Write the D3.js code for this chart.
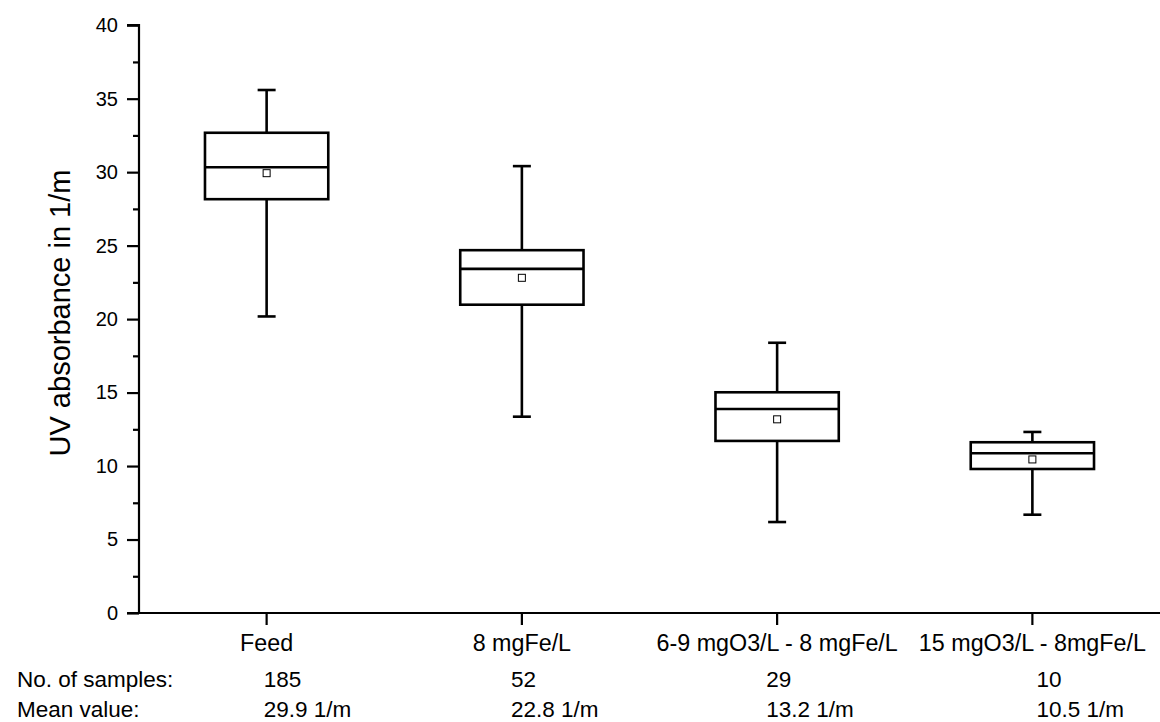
<!DOCTYPE html>
<html>
<head>
<meta charset="utf-8">
<script src="https://cdn.jsdelivr.net/npm/d3@7"></script>
<style>
  html, body { margin: 0; padding: 0; background: #fff; }
  svg { display: block; }
  text { font-family: "Liberation Sans", Arial, Helvetica, sans-serif; fill: #000; }
</style>
</head>
<body>
<svg id="chart" width="1160" height="722"></svg>
<script>
const categories = ["Feed", "8 mgFe/L", "6-9 mgO3/L - 8 mgFe/L", "15 mgO3/L - 8mgFe/L"];
const whiskerLow  = [20.18, 13.36, 6.19, 6.69];
const q1          = [28.16, 20.98, 11.71, 9.80];
const median      = [30.33, 23.42, 13.88, 10.87];
const q3          = [32.68, 24.69, 15.02, 11.62];
const whiskerHigh = [35.59, 30.41, 18.39, 12.32];
const means       = [29.93, 22.81, 13.18, 10.45];
const sampleCounts = ["185", "52", "29", "10"];
const meanLabels   = ["29.9 1/m", "22.8 1/m", "13.2 1/m", "10.5 1/m"];
const yTicks = [0, 5, 10, 15, 20, 25, 30, 35, 40];
const yMinorTicks = [2.5, 7.5, 12.5, 17.5, 22.5, 27.5, 32.5, 37.5];
const yTitle = "UV absorbance in 1/m";
const rowLabels = ["No. of samples:", "Mean value:"];

const svg = d3.select("#chart");
const mLeft = 139, mRight = 1160, mTop = 25.2, mBottom = 613;

const x = d3.scaleBand().domain(categories).range([mLeft, mRight]).padding(0);
const y = d3.scaleLinear().domain([0, 40]).range([mBottom, mTop]);

// Y axis
const yAxis = d3.axisLeft(y).tickValues(yTicks).tickSize(12).tickPadding(9).tickFormat(d3.format("d"));
const gy = svg.append("g").attr("transform", `translate(${mLeft},0)`).call(yAxis);
gy.select(".domain").attr("stroke-width", 2.2).attr("d", `M-12,${mTop}H0V${mBottom}`);
gy.selectAll(".tick line").attr("stroke-width", 2.2);
gy.selectAll(".tick text").style("font-size", "20px").style("font-family", "Liberation Sans, Arial, sans-serif");
const gyMinor = svg.append("g").attr("transform", `translate(${mLeft},0)`)
  .call(d3.axisLeft(y).tickValues(yMinorTicks).tickSize(6).tickFormat(""));
gyMinor.select(".domain").remove();
gyMinor.selectAll(".tick line").attr("stroke-width", 2.2);

// X axis
const xAxis = d3.axisBottom(x).tickSize(12).tickPadding(9);
const gx = svg.append("g").attr("transform", `translate(0,${mBottom})`).call(xAxis);
gx.select(".domain").attr("stroke-width", 2.2).attr("d", `M${mLeft-12},0H${mRight}`);
gx.selectAll(".tick line").attr("stroke-width", 2.2);
gx.selectAll(".tick text").style("font-size", "23.3px").style("font-family", "Liberation Sans, Arial, sans-serif");

// Y title
svg.append("text")
  .attr("transform", `translate(70,313) rotate(-90)`)
  .attr("text-anchor", "middle")
  .style("font-size", "29px")
  .text(yTitle);

// Boxes
const data = categories.map((c, i) => ({
  c, lo: whiskerLow[i], q1: q1[i], med: median[i], q3: q3[i], hi: whiskerHigh[i], mean: means[i]
}));
const boxW = x.bandwidth() * 0.483;
const capW = 18;
const g = svg.append("g").attr("stroke", "#000").attr("stroke-width", 2.6).attr("fill", "none");
data.forEach(d => {
  const cx = x(d.c) + x.bandwidth() / 2;
  g.append("line").attr("x1", cx).attr("x2", cx).attr("y1", y(d.hi)).attr("y2", y(d.q3));
  g.append("line").attr("x1", cx).attr("x2", cx).attr("y1", y(d.q1)).attr("y2", y(d.lo));
  g.append("line").attr("x1", cx - capW / 2).attr("x2", cx + capW / 2).attr("y1", y(d.hi)).attr("y2", y(d.hi));
  g.append("line").attr("x1", cx - capW / 2).attr("x2", cx + capW / 2).attr("y1", y(d.lo)).attr("y2", y(d.lo));
  g.append("rect").attr("x", cx - boxW / 2).attr("y", y(d.q3)).attr("width", boxW).attr("height", y(d.q1) - y(d.q3))
    .attr("fill", "#fff");
  g.append("line").attr("x1", cx - boxW / 2).attr("x2", cx + boxW / 2).attr("y1", y(d.med)).attr("y2", y(d.med));
  g.append("rect").attr("x", cx - 3.5).attr("y", y(d.mean) - 3.5).attr("width", 7).attr("height", 7)
    .attr("stroke-width", 1).attr("fill", "#fff");
});

// Bottom table
const rowY = [687, 717];
const tbl = svg.append("g").style("font-size", "22.5px");
tbl.append("text").attr("x", 17).attr("y", rowY[0]).text(rowLabels[0]);
tbl.append("text").attr("x", 17).attr("y", rowY[1]).text(rowLabels[1]);
const colOffsets = [-3, -11, -11, 4];
categories.forEach((c, i) => {
  const cx = x(c) + x.bandwidth() / 2;
  tbl.append("text").attr("x", cx + colOffsets[i]).attr("y", rowY[0]).text(sampleCounts[i]);
  tbl.append("text").attr("x", cx + colOffsets[i]).attr("y", rowY[1]).text(meanLabels[i]);
});
</script>
</body>
</html>
